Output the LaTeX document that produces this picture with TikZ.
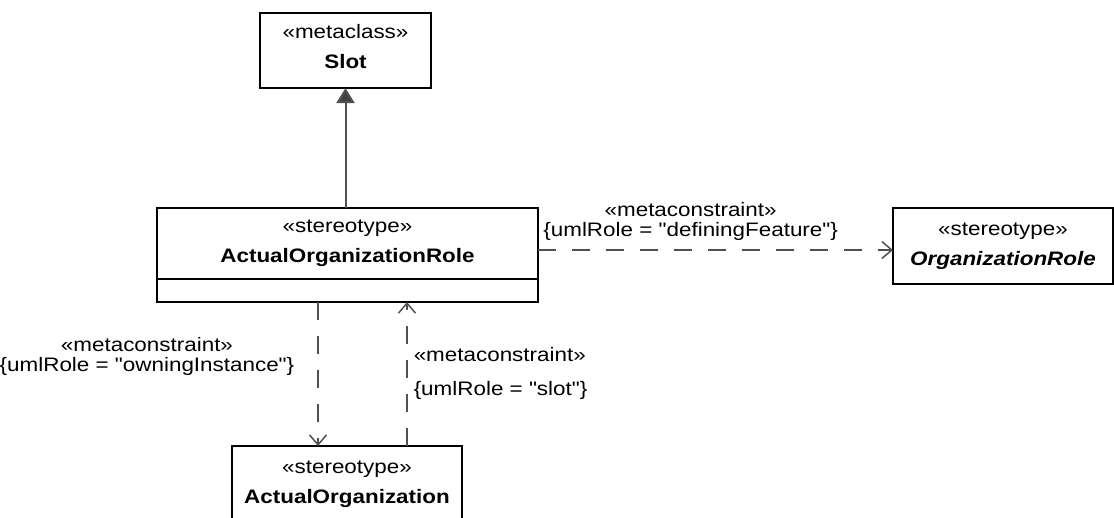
\documentclass[tikz,border=0pt]{standalone}
\usepackage{fontspec}
\setmainfont[FakeStretch=1.15,Ligatures=TeXOff]{Liberation Sans}
\usetikzlibrary{arrows.meta,positioning,calc}
\definecolor{edge}{RGB}{80,80,80}
\definecolor{genfill}{RGB}{64,64,64}
\tikzset{
  umlbox/.style={draw=black,line width=1.5pt,fill=white,inner sep=0pt,outer sep=0pt,align=center,font=\fontsize{19.5}{30}\selectfont},
  dep/.style={draw=edge,line width=1.5pt,dash pattern=on 18pt off 16pt,-{Straight Barb[length=10pt,width=17pt]}},
  gen/.style={draw=edge,line width=2pt,-{Triangle[length=15pt,width=18pt,fill=genfill]}},
  lbl/.style={inner sep=0pt,align=center,font=\fontsize{19.5}{20}\selectfont},
}

\begin{document}
\begin{tikzpicture}[x=1pt,y=-1pt]
\useasboundingbox (0,0) rectangle (1114,517);
% classes
\node[umlbox,minimum width=171pt,minimum height=75pt] (slot) at (345.5,50.5) {«metaclass»\\\textbf{Slot}\\[-21pt]};
\node[umlbox,minimum width=381pt,minimum height=71pt] (actrole) at (347.5,243.5) {«stereotype»\\\textbf{ActualOrganizationRole}};
\node[umlbox,minimum width=381pt,minimum height=23pt,below=0pt of actrole] (actrolefoot) {};
\node[umlbox,minimum width=220pt,minimum height=76pt] (orgrole) at (1003,246) {«stereotype»\\\textbf{\textit{OrganizationRole}}};
\node[umlbox,minimum width=230pt,minimum height=76pt] (actorg) at (347,484) {«stereotype»\\\textbf{ActualOrganization}};
% connectors
\draw[gen] (slot.south |- actrole.north) -- (slot.south);
\draw[dep] ([yshift=-6.5pt]actrole.east) -- ([yshift=-4pt]orgrole.west)
  node[lbl,pos=0.43,above=9pt] {«metaconstraint»\\\{umlRole = "definingFeature"\}};
\draw[dep] ([xshift=-29.5pt]actrolefoot.south) -- ([xshift=-29pt]actorg.north)
  node[lbl,pos=0.38,left=23pt] {«metaconstraint»\\\{umlRole = "owningInstance"\}};
\draw[dep] ([xshift=60pt]actorg.north) -- ([xshift=59.5pt]actrolefoot.south)
  node[lbl,pos=0.632,right=6pt] {«metaconstraint»}
  node[lbl,pos=0.389,right=6pt] {\{umlRole = "slot"\}};
\end{tikzpicture}
\end{document}
